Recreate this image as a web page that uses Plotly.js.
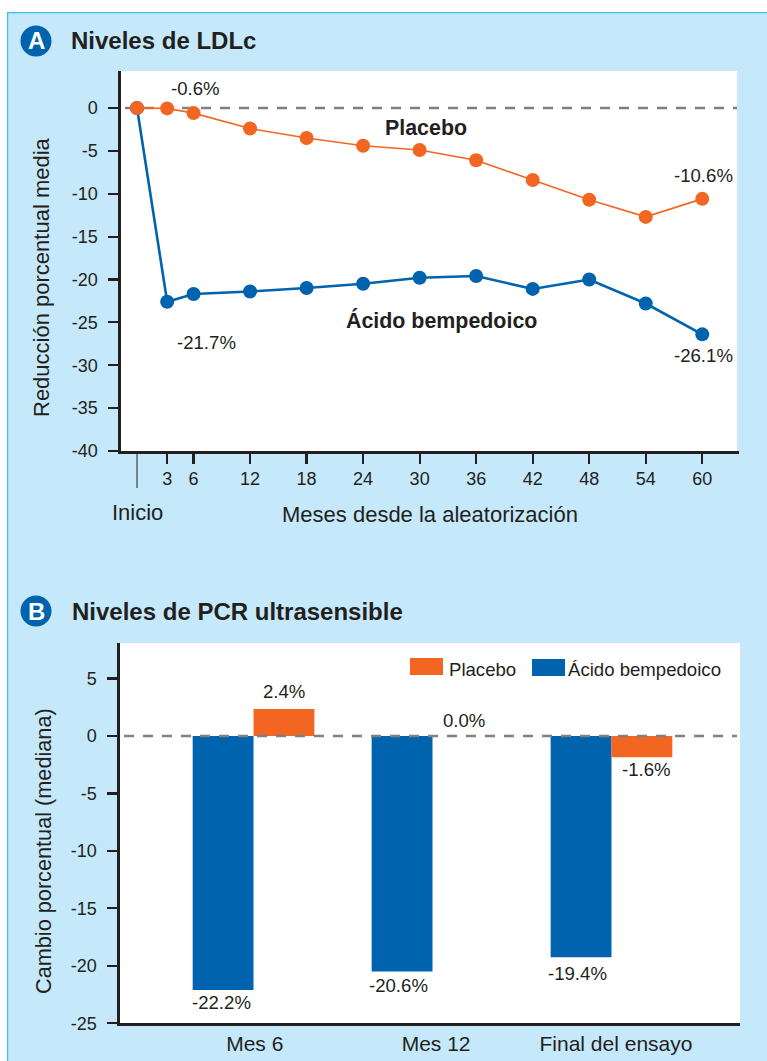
<!DOCTYPE html>
<html><head><meta charset="utf-8">
<script src="https://cdn.plot.ly/plotly-3.0.1.min.js"></script>
<style>html,body{margin:0;padding:0;background:#fff;overflow:hidden}#c{width:767px;height:1061px}</style>
</head><body><div id="c"></div>
<script>
const months = [0,3.2,6,12,18,24,30,36,42,48,54,60];
const ldlPlacebo = [0,-0.05,-0.6,-2.4,-3.5,-4.4,-4.9,-6.1,-8.4,-10.7,-12.7,-10.6];
const ldlAcido = [0,-22.6,-21.7,-21.4,-21.0,-20.5,-19.8,-19.6,-21.1,-20.0,-22.8,-26.4];
const monthTickVals = [3.2,6,12,18,24,30,36,42,48,54,60];
const monthTickText = ['3','6','12','18','24','30','36','42','48','54','60'];
const ldlTicks = [0,-5,-10,-15,-20,-25,-30,-35,-40];
const crpCategories = ['Mes 6','Mes 12','Final del ensayo'];
const crpPositions = [0,1,2];
const crpLabelPositions = [0.007,1.02,2.025];
const crpPlacebo = [2.35,0.0,-1.85];
const crpAcido = [-22.1,-20.5,-19.25];
const crpTicks = [5,0,-5,-10,-15,-20,-25];

const W=767,H=1061;
const BLUE='#0063ae',ORANGE='#f36621',PANEL='#c5e9fa',INK='#231f20',GREY='#808080',EDGE='#3dbcee';
const FONT='"Liberation Sans", Arial, sans-serif';
const fx=p=>p/W, fy=p=>1-p/H;

function label(text,x,y,o={}){
  return Object.assign({text,x:fx(x),y:fy(y),xref:'paper',yref:'paper',showarrow:false,
    xanchor:'center',yanchor:'middle',font:{family:FONT,size:18.6,color:INK}},o);
}
function rect(x0,y0,x1,y1,color,layer='below'){
  return {type:'rect',xref:'paper',yref:'paper',x0:fx(x0),x1:fx(x1),y0:fy(y0),y1:fy(y1),
    fillcolor:color,line:{width:0},layer};
}
function circle(cx,cy,r){
  return {type:'circle',xref:'paper',yref:'paper',x0:fx(cx-r),x1:fx(cx+r),y0:fy(cy+r),y1:fy(cy-r),
    fillcolor:BLUE,line:{width:0},layer:'below'};
}
const bold=s=>'<b>'+s+'</b>';
const titleFont={family:FONT,size:24,color:INK};
const boldFont={family:FONT,size:21.4,color:INK};
const bigFont={family:FONT,size:22,color:INK};

const traces=[
  {x:months,y:ldlAcido,name:'Ácido bempedoico',type:'scatter',mode:'lines+markers',xaxis:'x',yaxis:'y',
   line:{color:BLUE,width:2.6},marker:{color:BLUE,size:14},showlegend:false,hoverinfo:'skip'},
  {x:months,y:ldlPlacebo,name:'Placebo',type:'scatter',mode:'lines+markers',xaxis:'x',yaxis:'y',
   line:{color:ORANGE,width:1.6},marker:{color:ORANGE,size:14},showlegend:false,hoverinfo:'skip'},
  {x:crpPositions,y:crpAcido,name:'Ácido bempedoico',type:'bar',xaxis:'x2',yaxis:'y2',
   marker:{color:BLUE,line:{width:0}},showlegend:false,hoverinfo:'skip'},
  {x:crpPositions,y:crpPlacebo,name:'Placebo',type:'bar',xaxis:'x2',yaxis:'y2',
   marker:{color:ORANGE,line:{width:0}},showlegend:false,hoverinfo:'skip'}
];

const axisBase={showgrid:false,zeroline:false,showline:true,linecolor:INK,linewidth:2.6,
  ticks:'outside',ticklen:10,tickwidth:2.2,tickcolor:INK,tickfont:{family:FONT,size:18,color:INK},fixedrange:true};

const layout={
  width:W,height:H,margin:{l:0,r:0,t:0,b:0},paper_bgcolor:'#ffffff',plot_bgcolor:'rgba(0,0,0,0)',
  bargap:0.32,bargroupgap:0,barmode:'group',showlegend:false,
  xaxis:Object.assign({},axisBase,{domain:[fx(121),fx(739)],anchor:'y',range:[-1.70,63.9],
    tickmode:'array',tickvals:monthTickVals,ticktext:monthTickText,ticklabelstandoff:0}),
  yaxis:Object.assign({},axisBase,{domain:[fy(451),fy(71)],anchor:'x',range:[-40,4.31],
    tickmode:'array',tickvals:ldlTicks,ticktext:ldlTicks.map(String),ticklabelstandoff:7}),
  xaxis2:Object.assign({},axisBase,{domain:[fx(120),fx(740)],anchor:'y2',range:[-0.746,2.718],
    tickmode:'array',tickvals:crpLabelPositions,ticktext:crpCategories,ticks:'',ticklabelstandoff:0,
    tickfont:{family:FONT,size:21,color:INK}}),
  yaxis2:Object.assign({},axisBase,{domain:[fy(1023.3),fy(643)],anchor:'x2',range:[-25,8.09],
    tickmode:'array',tickvals:crpTicks,ticktext:crpTicks.map(String),ticklabelstandoff:7}),
  shapes:[
    rect(7,12,767,1061,PANEL),
    rect(7,12,767,13.2,EDGE),
    rect(7,12,8.2,1061,EDGE),
    rect(121,71,737,451,'#ffffff'),
    rect(120,643,740,1023.3,'#ffffff'),
    circle(36,41,15.5),
    circle(36,611,15.5),
    {type:'line',xref:'paper',yref:'y',x0:fx(125),x1:fx(737),y0:0,y1:0,layer:'below',
     line:{color:GREY,width:2.4,dash:'10px,9px'}},
    {type:'line',xref:'x',yref:'paper',x0:months[0],x1:months[0],y0:fy(451),y1:fy(488),layer:'above',
     line:{color:INK,width:1}},
    {type:'line',xref:'paper',yref:'y2',x0:fx(124),x1:fx(737),y0:0,y1:0,layer:'above',
     line:{color:GREY,width:2.4,dash:'10px,9px'}},
    rect(410,658,443,675,ORANGE,'above'),
    rect(532,659,565,676,BLUE,'above')
  ],
  annotations:[
    label(bold('A'),36,41,{font:{family:FONT,size:24,color:'#ffffff'}}),
    label(bold('Niveles de LDLc'),69,41,{xanchor:'left',font:titleFont}),
    label(bold('B'),36,611,{font:{family:FONT,size:24,color:'#ffffff'}}),
    label(bold('Niveles de PCR ultrasensible'),70,611,{xanchor:'left',font:titleFont}),
    label('-0.6%',195.5,88),
    label(bold('Placebo'),426,128,{font:boldFont}),
    label('-10.6%',703,176),
    label('-21.7%',206.5,342),
    label(bold('Ácido bempedoico'),441,321,{font:boldFont}),
    label('-26.1%',703,355),
    label('Inicio',137.5,512,{font:bigFont}),
    label('Meses desde la aleatorización',430,514,{font:bigFont}),
    label('Reducción porcentual media',41,277,{textangle:-90,font:bigFont}),
    label('Cambio porcentual (mediana)',43,851,{textangle:-90,font:{family:FONT,size:21.7,color:INK}}),
    label('2.4%',284,691),
    label('0.0%',464,720),
    label('-1.6%',646,769),
    label('-22.2%',221,1002),
    label('-20.6%',398,985),
    label('-19.4%',577,973),
    label('Placebo',447,669,{xanchor:'left'}),
    label('Ácido bempedoico',566,669,{xanchor:'left'})
  ]
};
Plotly.newPlot('c',traces,layout,{displayModeBar:false,staticPlot:true});
</script></body></html>
